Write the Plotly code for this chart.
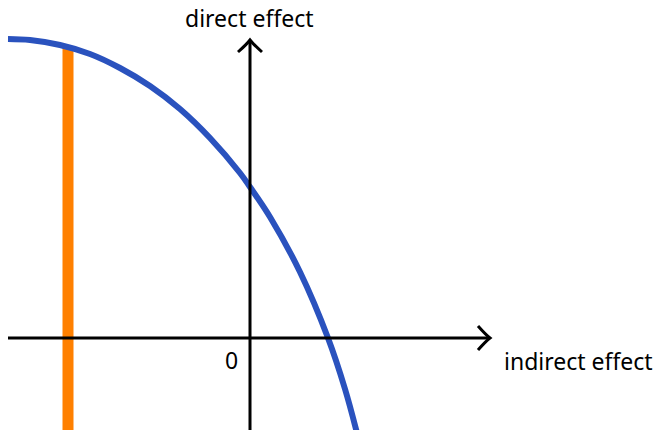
import plotly.graph_objects as go

# Conceptual trade-off curve (indirect effect on x, direct effect on y), units ~ px
indirect = [-242, -220, -190, -160, -130, -100, -70, -40, -10, 0, 20, 50, 78, 95, 108]
direct = [299, 298, 293, 284, 270, 252, 229, 200, 165, 151, 121, 66, 0, -51, -99]

# Orange vertical marker
marker_x = [-182, -182]
marker_y = [291, -110]

# Axis extents
x_axis_span = [-242, 240]
y_axis_span = [-100, 298]

x_label = "indirect effect"
y_label = "direct effect"
origin_label = "0"

fig = go.Figure()

fig.add_trace(go.Scatter(
    x=marker_x, y=marker_y, mode="lines",
    line=dict(color="#FF8000", width=11), hoverinfo="skip", showlegend=False))

fig.add_trace(go.Scatter(
    x=indirect, y=direct, mode="lines",
    line=dict(color="#2A52BE", width=6, shape="spline", smoothing=1.0),
    hoverinfo="skip", showlegend=False))

ax_col = "black"
ax_w = 3
# x axis
fig.add_shape(type="line", x0=x_axis_span[0], y0=0, x1=x_axis_span[1], y1=0,
              line=dict(color=ax_col, width=ax_w))
xt = x_axis_span[1]
fig.add_shape(type="path",
              path=f"M {xt-12},{12} Q {xt-4},{3} {xt},0 Q {xt-4},{-3} {xt-12},{-12}",
              line=dict(color=ax_col, width=ax_w))
# y axis
fig.add_shape(type="line", x0=0, y0=y_axis_span[0], x1=0, y1=y_axis_span[1],
              line=dict(color=ax_col, width=ax_w))
yt = y_axis_span[1]
fig.add_shape(type="path",
              path=f"M {-12},{yt-12} Q {-3},{yt-4} 0,{yt} Q {3},{yt-4} {12},{yt-12}",
              line=dict(color=ax_col, width=ax_w))

font = dict(family="Noto Sans", size=23, color="black")
fig.add_annotation(x=-1, y=320, text=y_label, showarrow=False, font=font,
                   xanchor="center", yanchor="middle", borderpad=0)
fig.add_annotation(x=253, y=-23, text=x_label, showarrow=False, font=font,
                   xanchor="left", yanchor="middle", borderpad=0)
fig.add_annotation(x=-19, y=-22, text=origin_label, showarrow=False,
                   font=dict(family="Noto Sans", size=23, color="black"),
                   xanchor="center", yanchor="middle", borderpad=0)

fig.update_layout(
    width=671, height=430,
    margin=dict(l=0, r=0, t=0, b=0),
    paper_bgcolor="white", plot_bgcolor="white",
    xaxis=dict(range=[-250, 421], visible=False, fixedrange=True),
    yaxis=dict(range=[-92, 338], visible=False, fixedrange=True),
    showlegend=False,
)

fig.write_html("out.html",
               config={"displayModeBar": False, "staticPlot": True},
               post_script="document.body.style.margin='0';document.body.style.padding='0';")
